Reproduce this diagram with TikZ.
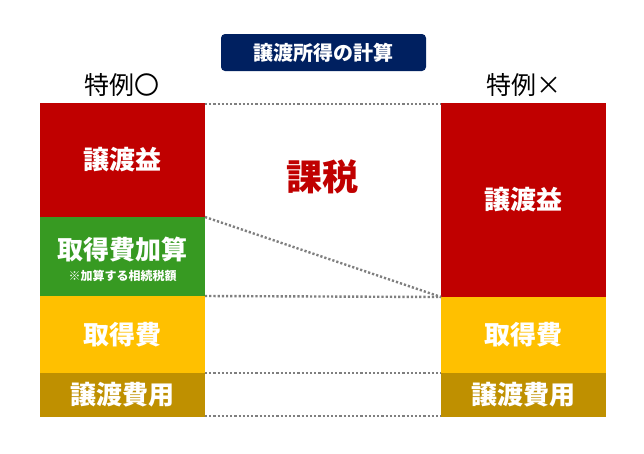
\documentclass[tikz,border=0pt]{standalone}
\usepackage{fontspec}
\setmainfont{Noto Sans CJK JP}
\definecolor{cred}{HTML}{C00000}
\definecolor{cgreen}{HTML}{379A22}
\definecolor{cyellow}{HTML}{FFC000}
\definecolor{cgold}{HTML}{BF9000}
\definecolor{cnavy}{HTML}{002060}
\definecolor{cdot}{HTML}{7F7F7F}
\begin{document}
\begin{tikzpicture}[x=1pt,y=-1pt,
  block/.style={anchor=north west, minimum width=165pt, inner sep=0pt, outer sep=0pt, draw=none, text=white, font=\fontsize{26}{30}\selectfont\bfseries},
  head/.style={font=\fontsize{25}{28}\selectfont, text=black},
  dotline/.style={draw=cdot, line width=2.4pt, dash pattern=on 2.2pt off 2pt}
]
\useasboundingbox (0,0) rectangle (644,453);
\fill[white] (0,0) rectangle (644,453);

% title
\node[fill=cnavy, rounded corners=4pt, minimum width=205pt, minimum height=37pt, inner sep=0pt, text=white, font=\fontsize{20}{24}\selectfont\bfseries] (title) at (323.5,52.5) {譲渡所得の計算};

% headers
\node[head] (hl) at (122,85) {特例〇};
\node[head] (hr) at (524,85) {特例×};

% left column
\node[block, fill=cred, minimum height=114pt] (lr) at (40,103) {譲渡益};
\node[block, fill=cgreen, minimum height=79pt] (lg) at (40,217) {};
\node[block, fill=cyellow, minimum height=77pt] (ly) at (40,296) {取得費};
\node[block, fill=cgold, minimum height=44pt] (lgd) at (40,373) {譲渡費用};
\node[text=white, font=\fontsize{26}{30}\selectfont\bfseries, inner sep=0pt] (lgt) at (122.5,250) {取得費加算};
\node[text=white, font=\fontsize{12}{14}\selectfont\bfseries, inner sep=0pt] (lgs) at (122.5,276) {※加算する相続税額};

% right column
\node[block, fill=cred, minimum height=194pt] (rr) at (441,103) {譲渡益};
\node[block, fill=cyellow, minimum height=76pt] (ry) at (441,297) {取得費};
\node[block, fill=cgold, minimum height=44pt] (rgd) at (441,373) {譲渡費用};

% tax label
\node[text=cred, font=\fontsize{36}{40}\selectfont\bfseries, inner sep=0pt] (tax) at (322,177) {課税};

% dotted connectors
\draw[dotline] ([yshift=-1pt]lr.north east) -- ([yshift=-1pt]rr.north west);
\draw[dotline] (lr.south east) -- (rr.south west);
\draw[dotline] (lg.south east) -- (ry.north west);
\draw[dotline] (ly.south east) -- (rgd.north west);
\draw[dotline] ([yshift=1pt]lgd.south east) -- ([yshift=1pt]rgd.south west);
\end{tikzpicture}
\end{document}
